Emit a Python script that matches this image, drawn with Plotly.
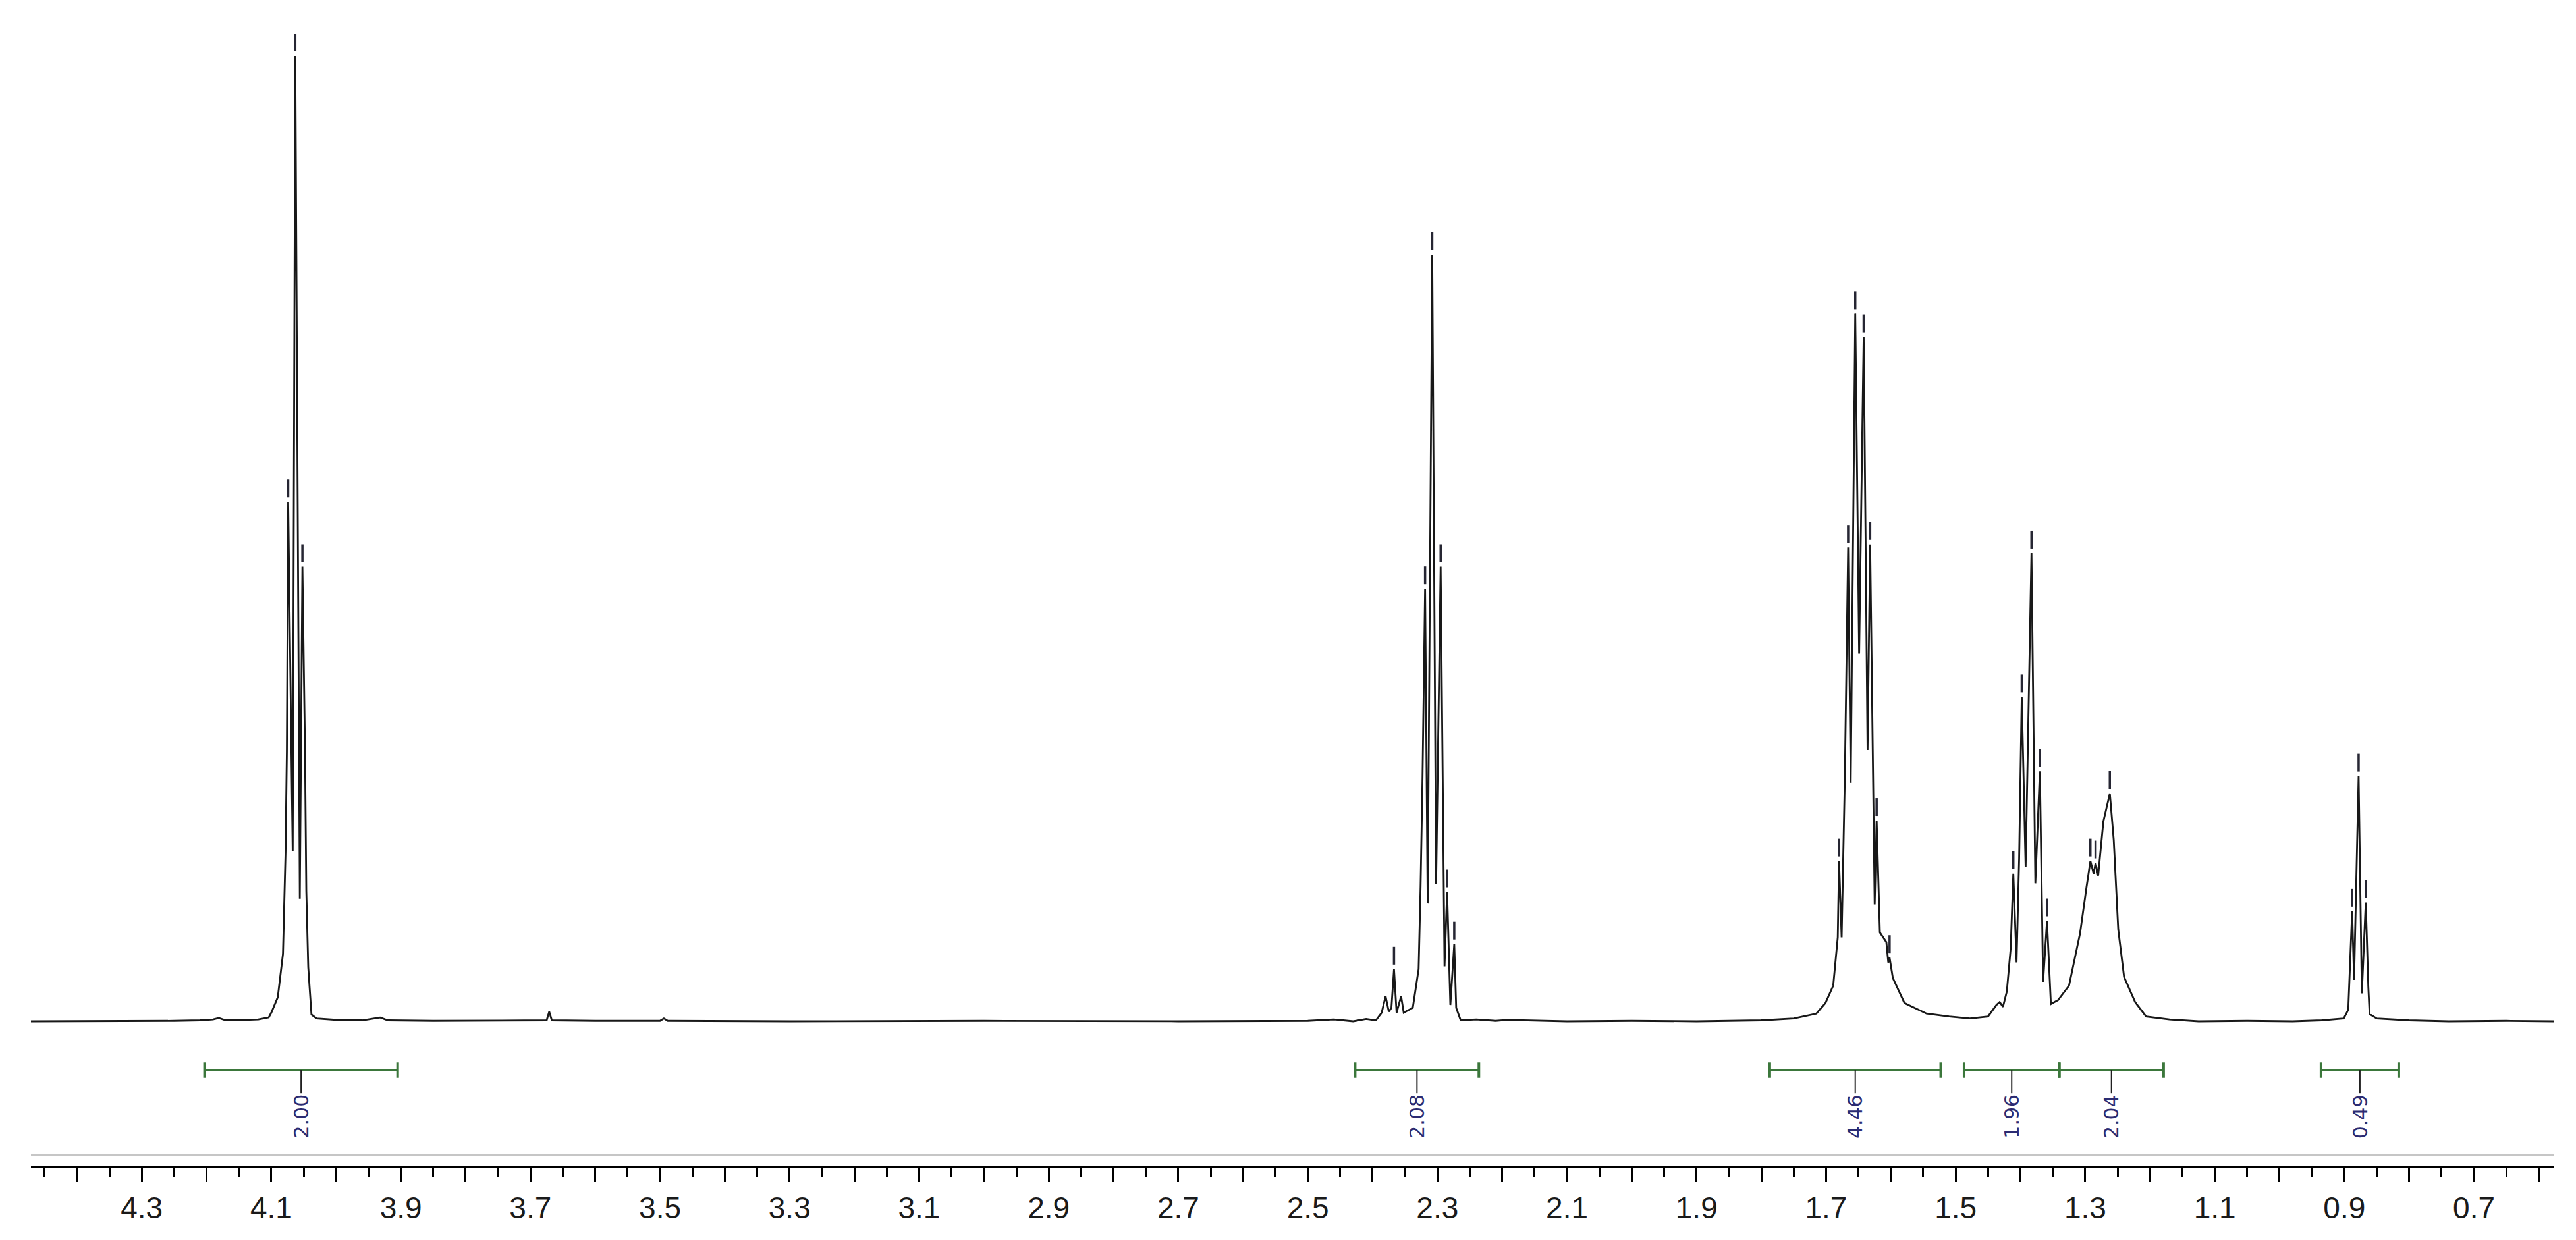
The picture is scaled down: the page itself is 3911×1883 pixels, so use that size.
import plotly.graph_objects as go

# ---------------- data ----------------
# 1H NMR trace: chemical shift (ppm) and relative intensity (tallest line = 100)
spectrum_ppm = [
    4.471, 4.30, 4.25, 4.21, 4.19, 4.181, 4.17, 4.14, 4.12, 4.104, 4.100, 4.090,
    4.082, 4.078, 4.076, 4.074, 4.067, 4.063, 4.056, 4.052, 4.048, 4.046, 4.043,
    4.038, 4.030, 4.00, 3.96, 3.932, 3.92, 3.85, 3.70, 3.675, 3.671, 3.667, 3.60,
    3.50, 3.494, 3.488, 3.30, 3.00, 2.70, 2.50, 2.46, 2.43, 2.41, 2.395, 2.386,
    2.380, 2.375, 2.371, 2.367, 2.363, 2.356, 2.352, 2.338, 2.329, 2.326, 2.323,
    2.319, 2.315, 2.308, 2.302, 2.295, 2.289, 2.285, 2.280, 2.274, 2.271, 2.264,
    2.24, 2.21, 2.19, 2.10, 2.00, 1.90, 1.80, 1.75, 1.715, 1.701, 1.689, 1.682,
    1.680, 1.676, 1.671, 1.666, 1.662, 1.655, 1.649, 1.642, 1.636, 1.632, 1.625,
    1.622, 1.617, 1.607, 1.604, 1.602, 1.597, 1.579, 1.545, 1.510, 1.478, 1.450,
    1.437, 1.432, 1.427, 1.421, 1.415, 1.411, 1.406, 1.402, 1.398, 1.392, 1.383,
    1.377, 1.370, 1.365, 1.359, 1.353, 1.342, 1.325, 1.308, 1.298, 1.292, 1.287,
    1.284, 1.280, 1.272, 1.262, 1.256, 1.249, 1.240, 1.223, 1.206, 1.17, 1.125,
    1.05, 0.98, 0.935, 0.901, 0.894, 0.891, 0.888, 0.885, 0.878, 0.873, 0.867,
    0.863, 0.861, 0.850, 0.80, 0.739, 0.65, 0.577,
]
spectrum_intensity = [
    0.0, 0.0, 0.05, 0.1, 0.2, 0.35, 0.1, 0.15, 0.2, 0.4, 0.9, 2.5,
    7.0, 17.6, 28.0, 53.8, 17.6, 100.0, 12.7, 47.1, 28.0, 13.5, 5.6,
    0.7, 0.3, 0.15, 0.1, 0.4, 0.1, 0.05, 0.05, 0.1, 1.0, 0.1, 0.05,
    0.05, 0.3, 0.05, 0.0, 0.05, 0.0, 0.05, 0.2, 0.0, 0.25, 0.1, 0.9,
    2.6, 1.0, 1.4, 5.4, 0.9, 2.6, 0.9, 1.4, 5.4, 13.9, 25.2,
    44.8, 12.2, 79.4, 14.2, 47.1, 5.7, 13.4, 1.7, 8.0, 1.4, 0.1,
    0.2, 0.05, 0.15, 0.0, 0.05, 0.0, 0.1, 0.3, 0.8, 1.9, 3.7, 8.7,
    16.6, 8.7, 25.5, 49.1, 24.7, 73.3, 38.1, 70.9, 28.1, 49.4, 12.1,
    20.8, 9.2, 8.2, 6.1, 6.6, 4.5, 1.9, 0.8, 0.5, 0.3, 0.5,
    1.7, 2.0, 1.5, 3.1, 7.6, 15.3, 6.1, 16.9, 33.6, 16.0, 48.5,
    14.3, 25.9, 4.1, 10.4, 1.8, 2.2, 3.7, 9.1, 13.9, 16.6, 15.3,
    16.4, 15.1, 20.7, 23.6, 18.8, 9.5, 4.6, 2.0, 0.5, 0.2, 0.0,
    0.05, 0.0, 0.1, 0.3, 1.2, 6.0, 11.4, 4.3, 25.4, 2.9, 12.3,
    3.6, 0.75, 0.3, 0.1, 0.0, 0.05, 0.0,
]

# picked peaks (ppm, intensity of the line top)
peak_ppm = [4.074, 4.063, 4.052,
            2.367, 2.319, 2.308, 2.295, 2.285, 2.274,
            1.680, 1.666, 1.655, 1.642, 1.632, 1.622, 1.602,
            1.411, 1.398, 1.383, 1.370, 1.359,
            1.292, 1.284, 1.262,
            0.888, 0.878, 0.867]
peak_height = [53.8, 100.0, 47.1,
               5.4, 44.8, 79.4, 47.1, 13.4, 8.0,
               16.6, 49.1, 73.3, 70.9, 49.4, 20.8, 6.6,
               15.3, 33.6, 48.5, 25.9, 10.4,
               16.6, 16.4, 23.6,
               11.4, 25.4, 12.3]

# integration regions
integral_start = [4.203, 2.427, 1.787, 1.487, 1.340, 0.936]
integral_end = [3.905, 2.236, 1.523, 1.340, 1.179, 0.816]
integral_value = ["2.00", "2.08", "4.46", "1.96", "2.04", "0.49"]

# axis ticks
major_tick_ppm = [4.4, 4.3, 4.2, 4.1, 4.0, 3.9, 3.8, 3.7, 3.6, 3.5, 3.4, 3.3, 3.2,
                  3.1, 3.0, 2.9, 2.8, 2.7, 2.6, 2.5, 2.4, 2.3, 2.2, 2.1, 2.0, 1.9,
                  1.8, 1.7, 1.6, 1.5, 1.4, 1.3, 1.2, 1.1, 1.0, 0.9, 0.8, 0.7, 0.6]
tick_labels = ["", "4.3", "", "4.1", "", "3.9", "", "3.7", "", "3.5", "", "3.3", "",
               "3.1", "", "2.9", "", "2.7", "", "2.5", "", "2.3", "", "2.1", "", "1.9",
               "", "1.7", "", "1.5", "", "1.3", "", "1.1", "", "0.9", "", "0.7", ""]

# ---------------- styling constants ----------------
W, H = 3911, 1883
PX_PER_UNIT = 14.66          # pixels per intensity unit
BAR_Y = -5.05                # integral bar level
CAP = 0.8                    # half-height of bar end caps
STEM_END = -7.45
LABEL_Y = -9.85
GRAY_Y = -13.85
GREEN = "#3b773b"
NAVY = "#2b2b72"
MARK_GAP_PX = 7
MARK_LEN_PX = 27

fig = go.Figure()

# spectrum
fig.add_trace(go.Scatter(
    x=spectrum_ppm, y=spectrum_intensity, mode="lines",
    line=dict(color="#181818", width=2.8), hoverinfo="skip", showlegend=False))

# peak pick markers (short dashes above each peak), drawn as segments
mx, my = [], []
for p, h in zip(peak_ppm, peak_height):
    y0 = h + MARK_GAP_PX / PX_PER_UNIT
    y1 = y0 + MARK_LEN_PX / PX_PER_UNIT
    mx += [p, p, None]
    my += [y0, y1, None]
fig.add_trace(go.Scatter(
    x=mx, y=my, mode="lines", line=dict(color="#262633", width=3.5),
    hoverinfo="skip", showlegend=False))

# integral bars
bx, by, sx, sy = [], [], [], []
for s, e in zip(integral_start, integral_end):
    bx += [s, e, None, s, s, None, e, e, None]
    by += [BAR_Y, BAR_Y, None, BAR_Y - CAP, BAR_Y + CAP, None, BAR_Y - CAP, BAR_Y + CAP, None]
    m = (s + e) / 2
    sx += [m, m, None]
    sy += [BAR_Y, STEM_END, None]
fig.add_trace(go.Scatter(x=bx, y=by, mode="lines", line=dict(color=GREEN, width=4),
                         hoverinfo="skip", showlegend=False))
fig.add_trace(go.Scatter(x=sx, y=sy, mode="lines", line=dict(color="#202020", width=2),
                         hoverinfo="skip", showlegend=False))
for s, e, v in zip(integral_start, integral_end, integral_value):
    fig.add_annotation(x=(s + e) / 2, y=LABEL_Y, text=v, textangle=-90, showarrow=False,
                       font=dict(family="DejaVu Sans", size=30, color=NAVY),
                       xanchor="center", yanchor="middle")

# light gray separator line above the axis
fig.add_shape(type="line", xref="paper", x0=0, x1=1, yref="y", y0=GRAY_Y, y1=GRAY_Y,
              line=dict(color="#c6c6c6", width=4))

fig.update_xaxes(
    range=[4.471, 0.577], showgrid=False, zeroline=False,
    showline=True, linewidth=4, linecolor="black",
    tickmode="array", tickvals=major_tick_ppm, ticktext=tick_labels,
    ticks="outside", ticklen=21, tickwidth=3, tickcolor="black",
    tickfont=dict(family="Liberation Sans", size=46, color="#1a1a1a"),
    minor=dict(dtick=0.05, tick0=0.0, ticks="outside", ticklen=13, tickwidth=3,
               tickcolor="black", showgrid=False),
    automargin=False,
)
fig.update_yaxes(range=[-14.94, 105.25], visible=False, fixedrange=True)

fig.update_layout(
    width=W, height=H,
    margin=dict(l=39, r=42, t=0, b=121, autoexpand=False),
    paper_bgcolor="white", plot_bgcolor="white",
    showlegend=False,
)

fig.write_html("out.html")
